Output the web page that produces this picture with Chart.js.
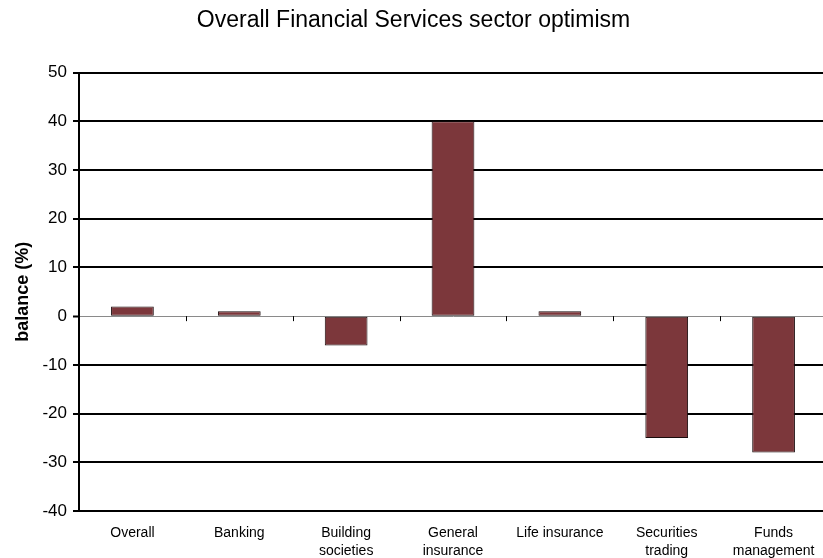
<!DOCTYPE html>
<html>
<head>
<meta charset="utf-8">
<script src="https://cdn.jsdelivr.net/npm/chart.js@4/dist/chart.umd.min.js"></script>
<style>
  html, body { margin: 0; padding: 0; background: #fff; overflow: hidden; }
  #wrap { position: relative; width: 830px; height: 558px; }
</style>
</head>
<body>
<div id="wrap"><canvas id="chart"></canvas></div>
<script>
const sectors = [
  'Overall',
  'Banking',
  ['Building', 'societies'],
  ['General', 'insurance'],
  'Life insurance',
  ['Securities', 'trading'],
  ['Funds', 'management'],
];
const balance = [2, 1, -6, 40, 1, -25, -28];
const yMin = -40;
const yMax = 50;
const yStep = 10;

// small marks under the zero line between categories
const zeroTicks = {
  id: 'zeroTicks',
  afterDatasetsDraw(chart) {
    const { ctx, scales: { x, y } } = chart;
    const y0 = y.getPixelForValue(0);
    ctx.save();
    ctx.strokeStyle = '#000';
    ctx.lineWidth = 1;
    for (let i = 1; i < sectors.length; i++) {
      const px = Math.round((x.getPixelForValue(i - 1) + x.getPixelForValue(i)) / 2) + 0.5;
      ctx.beginPath();
      ctx.moveTo(px, y0);
      ctx.lineTo(px, y0 + 5);
      ctx.stroke();
    }
    ctx.restore();
  },
};

new Chart(document.getElementById('chart'), {
  type: 'bar',
  data: {
    labels: sectors,
    datasets: [{
      data: balance,
      backgroundColor: '#7C373B',
      borderColor: '#1a0c0d',
      borderWidth: 1,
      borderSkipped: false,
      barPercentage: 0.4,
      categoryPercentage: 1,
    }],
  },
  plugins: [zeroTicks],
  options: {
    responsive: true,
    maintainAspectRatio: false,
    animation: false,
    layout: { padding: { left: 0, right: 3, top: 0, bottom: 0 } },
    plugins: {
      legend: { display: false },
      tooltip: { enabled: false },
      title: {
        display: true,
        text: 'Overall Financial Services sector optimism',
        color: '#000',
        font: { family: '"Liberation Sans", Arial, sans-serif', size: 23, weight: 'normal' },
        padding: { top: 7, bottom: 38 },
      },
    },
    scales: {
      x: {
        grid: { display: false, drawTicks: false },
        border: { display: true, color: '#000', width: 2 },
        ticks: {
          color: '#000',
          font: { family: '"Liberation Sans", Arial, sans-serif', size: 14, lineHeight: 1.28 },
          padding: 13,
          maxRotation: 0,
          autoSkip: false,
        },
        afterFit: (s) => { s.height = 47; },
      },
      y: {
        min: yMin,
        max: yMax,
        grid: {
          color: (c) => (c.tick && c.tick.value === 0 ? '#8a8a8a' : '#000'),
          lineWidth: (c) => (c.tick && c.tick.value === 0 ? 1 : 2),
          tickColor: '#000',
          tickWidth: 2,
          tickLength: 6,
        },
        border: { display: true, color: '#000', width: 2 },
        ticks: {
          stepSize: yStep,
          color: '#000',
          padding: 6,
          font: { family: '"Liberation Sans", Arial, sans-serif', size: 17 },
        },
        title: {
          display: true,
          text: 'balance (%)',
          color: '#000',
          font: { family: '"Liberation Sans", Arial, sans-serif', size: 18, weight: 'bold' },
          padding: { top: 12, bottom: 0 },
        },
        afterFit: (s) => { s.width = 79; },
      },
    },
  },
});
</script>
</body>
</html>
